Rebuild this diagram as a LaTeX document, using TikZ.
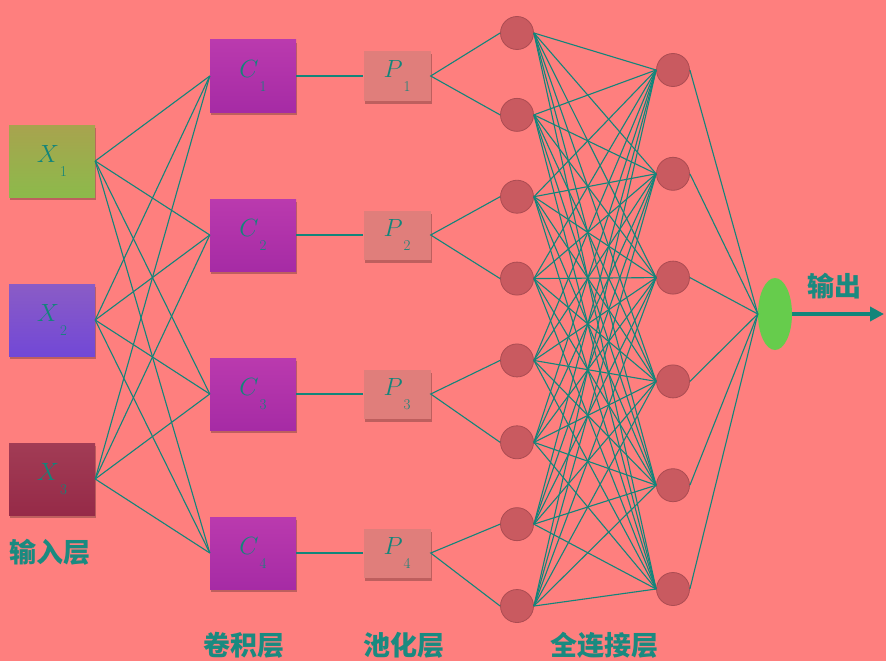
\documentclass[tikz,border=0pt]{standalone}
\usepackage{fontspec}
\usepackage{tikz}
\usetikzlibrary{shadows,shapes.geometric,arrows.meta}
\newfontfamily\cjk{Noto Sans CJK SC}
\definecolor{bgcol}{HTML}{FE7F7E}
\definecolor{linecol}{HTML}{12857A}
\definecolor{labcol}{HTML}{1A8A80}
% letter with a low subscript, as in the layer boxes
\newcommand{\lbl}[2]{$#1$\kern1pt\raisebox{-.5em}{\fontsize{15}{15}\selectfont #2}}

\begin{document}
\begin{tikzpicture}[x=1pt,y=-1pt,
  box/.style={rectangle,inner sep=0pt,minimum width=86pt,minimum height=72pt,text=linecol,
    font=\fontsize{29}{30}\selectfont,
    drop shadow={shadow xshift=1pt,shadow yshift=-3pt,opacity=.25,fill=black}},
  pbox/.style={box,minimum width=67pt,minimum height=49pt,fill=pcol},
  neuron/.style={circle,inner sep=0pt,minimum size=33pt,fill=ncol,draw=ncol!85!black,line width=.8pt},
  link/.style={linecol,line width=1.1pt},
  lab/.style={text=labcol,font=\cjk\bfseries\fontsize{27}{30}\selectfont}]
\definecolor{pcol}{HTML}{E07E7B}
\definecolor{ncol}{HTML}{C95A60}

\fill[bgcol] (0,0) rectangle (886,661);
\useasboundingbox (0,0) rectangle (886,661);

% input layer
\node[box,top color={rgb,255:red,168;green,163;blue,78},bottom color={rgb,255:red,140;green,186;blue,75}] (x1) at (52,161) {\lbl{X}{1}};
\node[box,top color={rgb,255:red,138;green,92;blue,198},bottom color={rgb,255:red,114;green,72;blue,214}] (x2) at (52,320) {\lbl{X}{2}};
\node[box,top color={rgb,255:red,162;green,60;blue,85},bottom color={rgb,255:red,150;green,42;blue,72}] (x3) at (52,479) {\lbl{X}{3}};

% convolution and pooling
\foreach \i in {1,...,4} {
  \node[box,top color={rgb,255:red,186;green,58;blue,174},bottom color={rgb,255:red,166;green,43;blue,165}] (c\i) at (253,{76+159*(\i-1)}) {\lbl{C}{\i}};
  \node[pbox] (p\i) at (397,{76+159*(\i-1)}) {\lbl{P}{\i}};
}

% fully connected
\foreach \i in {1,...,8}
  \node[neuron] (h\i) at (517,{33+81.86*(\i-1)}) {};
\foreach \j in {1,...,6}
  \node[neuron] (g\j) at (673,{70+103.8*(\j-1)}) {};
\node[ellipse,inner sep=0pt,minimum width=34pt,minimum height=72pt,fill={rgb,255:red,102;green,204;blue,76}] (out) at (775,314) {};
\coordinate (end) at (884,314);

\foreach \i in {1,2,3}
  \foreach \j in {1,...,4}
    \draw[link] (x\i.east) -- (c\j.west);
\foreach \j in {1,...,4}
  \draw[link] (c\j.east) -- (p\j.west);
\foreach \j/\a/\b in {1/1/2,2/3/4,3/5/6,4/7/8}
  \draw[link] (h\a.west) -- (p\j.east) -- (h\b.west);
\foreach \i in {1,...,8}
  \foreach \j in {1,...,6}
    \draw[link] (h\i.east) -- (g\j.west);
\foreach \j in {1,...,6}
  \draw[link] (g\j.east) -- (out.west);
\draw[linecol,line width=4pt,-{Triangle[length=14pt,width=14pt]}] (out.east) -- (end);

% labels
\node[lab] (inlab) at (50,552) {输入层};
\node[lab] (clab) at (244,645) {卷积层};
\node[lab] (plab) at (404,645) {池化层};
\node[lab] (fclab) at (604,645) {全连接层};
\node[lab] (outlab) at (834,286) {输出};
\end{tikzpicture}
\end{document}
